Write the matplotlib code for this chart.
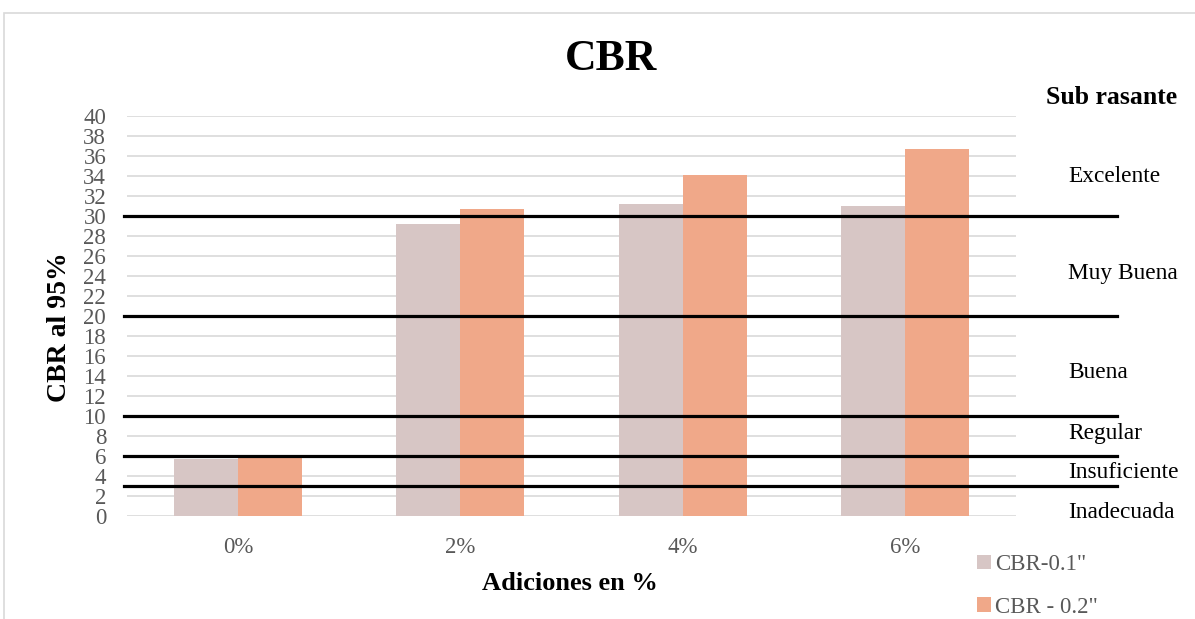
import matplotlib
matplotlib.use("Agg")
import matplotlib.pyplot as plt
from matplotlib.patches import Rectangle
import numpy as np

plt.rcParams['font.family'] = ['Liberation Serif', 'DejaVu Serif']

categories = ["0%", "2%", "4%", "6%"]
cbr_01 = [5.7, 29.2, 31.2, 31.0]
cbr_02 = [5.9, 30.7, 34.1, 36.7]
series_names = ["CBR-0.1\"", "CBR - 0.2\""]

limits = [30, 20, 10, 6, 3]
classes = ["Excelente", "Muy Buena", "Buena", "Regular", "Insuficiente", "Inadecuada"]
class_levels = [34, 24.3, 14.4, 8.2, 4.3, 0.3]
yticks = list(range(0, 41, 2))

W, H = 1195, 619
fig = plt.figure(figsize=(W / 100, H / 100), dpi=100)
fig.patches.append(Rectangle((4 / W, -0.01), 1.2, 1 - 13 / H + 0.01,
                             transform=fig.transFigure, fill=False,
                             edgecolor="#d9d9d9", linewidth=1.2))

ax = fig.add_axes([127 / W, 1 - 516 / H, 889 / W, 400 / H])
x = np.arange(len(categories))
w = 0.288
ax.bar(x - w / 2, cbr_01, w, color="#d7c6c5", label=series_names[0], zorder=2)
ax.bar(x + w / 2, cbr_02, w, color="#f0a889", label=series_names[1], zorder=2)

ax.set_xlim(-0.5, 3.5)
ax.set_ylim(0, 40)
ax.set_yticks(yticks)
ax.set_xticks(x)
ax.set_xticklabels(categories)
ax.tick_params(length=0, labelsize=16.5, colors="#595959")
ax.tick_params(axis="y", pad=15)
ax.tick_params(axis="x", pad=15)
ax.grid(axis="y", color="#d9d9d9", linewidth=1.2, zorder=0)
ax.set_axisbelow(True)
for s in ax.spines.values():
    s.set_visible(False)

# classification limits extend past the plot area into the label column
for lv in limits:
    ax.axhline(lv, xmin=-0.003, xmax=1.1136, color="black", linewidth=2.3,
               clip_on=False, zorder=3)

for name, lv in zip(classes, class_levels):
    ax.text(1.0585, lv, name, transform=ax.get_yaxis_transform(),
            fontsize=16.8, va="center", ha="left")

ax.text(1.0335, 41.8, "Sub rasante", transform=ax.get_yaxis_transform(),
        fontsize=18.5, fontweight="bold", va="center", ha="left")

fig.text(611 / W, 1 - 59 / H, "CBR", fontsize=31.5, fontweight="bold",
         ha="center", va="center")
fig.text(59 / W, 1 - 327 / H, "CBR al 95%", fontsize=20, fontweight="bold",
         ha="center", va="center", rotation=90)
fig.text(570 / W, 1 - 583 / H, "Adiciones en %", fontsize=19,
         fontweight="bold", ha="center", va="center")

fig.legend(loc="upper left", bbox_to_anchor=(977 / W, 1 - 554 / H),
           frameon=False, fontsize=16.5, handlelength=0.6, handleheight=0.6,
           handletextpad=0.2, labelspacing=0.95, borderpad=0, borderaxespad=0,
           labelcolor="#595959")

fig.savefig("out.png", dpi=100)
